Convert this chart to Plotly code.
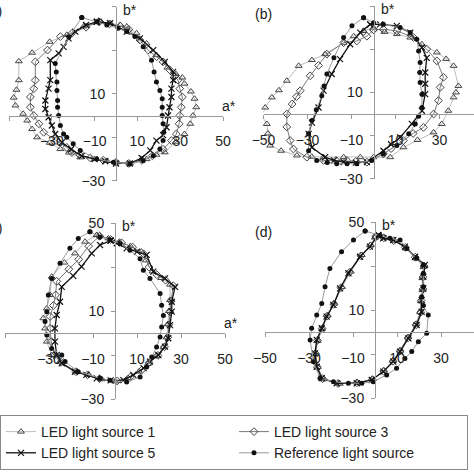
import plotly.graph_objects as go

# a*, b* points, one closed loop per light source and panel
panel_a_led1 = [(-7, 43), (-2.8, 42.3), (2, 41.5), (5, 40.8), (9.6, 37.7), (14.3, 33), (18.9, 27.7), (24, 22),
                (28, 19), (31, 17.4), (32, 14.6), (35, 11), (36.7, 7.7), (37.5, 3.8), (36, 0), (34.7, -3.8),
                (32, -8.5), (28, -12), (22.8, -16.9), (18.9, -18), (14.3, -20), (6.5, -22), (0, -21.5),
                (-4.3, -20.8), (-10, -20), (-16.7, -19.2), (-22, -17), (-26, -15.4), (-31, -12.5), (-36.9, -10),
                (-39.2, -6.2), (-41.5, -2.3), (-43.4, 0.8), (-47, 4.6), (-47.8, 8.2), (-46.5, 11.8),
                (-45.4, 16.2), (-45.4, 24.9), (-39.2, 28.8), (-31, 33.8), (-23, 37), (-15.2, 40.8), (-7, 43)]
panel_a_led3 = [(-8, 43), (-3, 42), (2, 41), (6, 39.5), (11.2, 34.6), (15, 30), (19, 27), (22, 24.6), (25, 21),
                (27.5, 18), (29, 16.2), (29.8, 12.3), (31, 8.5), (30.5, 3.8), (29.8, 0), (29.5, -3.8),
                (28.2, -8.5), (25.9, -11.5), (22, -15.5), (17, -18.5), (12, -20.5), (6, -22), (0, -21.5),
                (-6, -20.5), (-12, -19.5), (-17, -18), (-20.6, -17), (-23, -14.6), (-28, -11.5), (-33.8, -7.7),
                (-36, -3.8), (-38.4, 0), (-40, 3.8), (-40, 8.5), (-38.4, 12.3), (-37.7, 16.2), (-37.7, 24.6),
                (-32, 30), (-26, 36.2), (-20.6, 37.7), (-14, 40.5), (-8, 43)]
panel_a_led5 = [(-9, 43), (-2.8, 42.3), (5, 38.5), (11.2, 35.4), (17.4, 30), (22.8, 24.6), (26.7, 20),
                (26.7, 16.2), (25.9, 12.3), (25.9, 8.5), (25, 3.8), (24.3, 0), (23.6, -5.4), (22, -9),
                (18.9, -11.5), (16, -16), (12, -19.5), (6.5, -22), (0, -22), (-5, -21), (-10, -20), (-16, -18.5),
                (-21, -15.5), (-25.3, -12.3), (-28.4, -8.5), (-30, -4.6), (-31.5, -0.8), (-33, 3), (-33, 6.9),
                (-31.5, 12.3), (-30.7, 16.2), (-30.7, 25.4), (-26.8, 28.5), (-24.5, 31.5), (-22.2, 35.4),
                (-19, 38.5), (-14, 41.5), (-9, 43)]
panel_a_ref = [(-16, 45), (-9, 43), (-4.3, 41.5), (1, 40), (5, 38.5), (8.8, 36.2), (12.7, 31.5), (16.6, 25.4),
               (17.8, 20), (18.9, 15.4), (20.5, 11.5), (21.6, 7.7), (21.6, 3.8), (21.6, 0), (22, -3.8),
               (22.3, -7.7), (22, -11.5), (20.5, -15.4), (17.4, -18.5), (12.7, -20.8), (6.5, -22.3),
               (-1.2, -21.5), (-9, -20), (-16.7, -16), (-20, -13), (-23, -10), (-24.5, -8.5), (-26, -4.6),
               (-26.8, 0), (-27.3, 3.8), (-27.3, 6.9), (-27.6, 11.5), (-27.6, 15.4), (-27.9, 20),
               (-28.4, 23.8), (-22, 36), (-16, 45)]

panel_b_led1 = [(-4.5, 38.5), (0, 40), (5, 38), (10.6, 37), (16.7, 35.4), (22, 32.3), (28.8, 28.5), (33, 25.5),
                (36.4, 22.3), (38.6, 13), (37.5, 10), (36.4, 7.7), (34, 1.5), (31, -4.6), (27.3, -8.5),
                (20, -12), (13.6, -15.4), (7.6, -20), (0, -20), (-6, -20), (-13.6, -20), (-22.7, -20),
                (-28, -19.8), (-34.8, -19.2), (-42, -17), (-47, -14.6), (-48, -9), (-48.5, -4.6), (-50.8, -0.8),
                (-49.2, 3), (-46.2, 7.7), (-43, 11), (-39.4, 15.4), (-34, 22.3), (-28, 25), (-22, 27.7),
                (-13.6, 33), (-9, 36), (-4.5, 38.5)]
panel_b_led3 = [(0, 39), (4.5, 39.2), (10.6, 38.5), (18.2, 35.4), (24.2, 30), (28.8, 24.6), (31.8, 17),
                (30.3, 12.3), (29.5, 6.2), (27.3, 0), (22.7, -6.2), (18, -9), (13.6, -12.3), (8, -16),
                (4.5, -18.5), (-3, -22.3), (-8, -22), (-12.1, -21.5), (-17, -21.5), (-22.7, -21.5), (-30.3, -20),
                (-36.4, -16.2), (-37.9, -12.3), (-39.4, -6), (-39.4, 0), (-37, 4.6), (-35, 8), (-33.3, 10.8),
                (-28.8, 17.7), (-25, 22.5), (-21.2, 27.7), (-13.6, 33), (-7.6, 33.8), (-3, 36), (0, 39)]
panel_b_led5 = [(-1.5, 41.5), (3, 41.5), (10.6, 40.8), (16.7, 37.7), (22, 30.8), (24.2, 26), (23.5, 19.2),
                (23.5, 14), (23.5, 9.2), (22, 1.5), (17.4, -4.6), (12.1, -10.8), (8, -14), (4.5, -17),
                (-3, -22.3), (-8, -22.5), (-13.6, -22.3), (-18, -21.5), (-22, -20), (-28, -15.4), (-29.5, -9.2),
                (-28, -4), (-25, 3), (-22.7, 10.8), (-19, 18.5), (-15.2, 25.4), (-10.6, 32.3), (-6, 37.7),
                (-1.5, 41.5)]
panel_b_ref = [(-4.5, 44.6), (0, 42.3), (4.5, 41.5), (12.1, 40), (16.7, 37.7), (19.7, 34.6), (20.5, 29.2),
               (21.2, 23.8), (21, 19.2), (21.2, 14.6), (22, 9.2), (22, 3), (20.5, -1), (19, -4.6), (16, -9.2),
               (10.6, -14.6), (4.5, -18.5), (-0.8, -21.5), (-7.6, -23), (-12, -23), (-16.7, -23), (-21, -22.5),
               (-25.8, -21.5), (-29.5, -17), (-29.5, -9.2), (-28, -3), (-26, 2), (-23.5, 8.5), (-22.5, 13),
               (-21.2, 18.5), (-18, 26), (-13.6, 35.4), (-9.8, 40.8), (-4.5, 44.6)]

panel_c_led1 = [(-8.3, 44.5), (-3, 43), (2, 41.5), (7, 39.5), (12, 37), (14, 33), (17, 28), (21, 25), (25, 22),
                (25, 15), (24.5, 10), (24, 4), (23.5, -2), (22, -6.5), (19, -10.5), (15, -14), (11, -17.5),
                (6, -20.5), (0, -22), (-6, -21), (-12, -19), (-17.4, -17.6), (-25, -13), (-28.8, -10),
                (-31, -3.9), (-31.8, 2.1), (-32.6, 6.7), (-31, 11.2), (-29.5, 17.3), (-28.8, 25.6), (-23, 32),
                (-18.2, 36.2), (-13.6, 41.5), (-8.3, 44.5)]
panel_c_led3 = [(-7, 44), (-2, 42.5), (3, 41), (8, 39), (13, 36), (15.5, 30), (19, 26.5), (23, 24), (26.5, 21.5),
                (25.5, 14.5), (25, 9.5), (24.5, 3.8), (24, -2), (22.5, -6.3), (19.5, -10.2), (15.5, -13.5),
                (12, -17), (7, -20), (1, -21.8), (-7, -20.8), (-12.5, -19), (-17.8, -17.6), (-24.5, -13.3),
                (-27.5, -10), (-29, -3.9), (-29.5, 2.1), (-29.5, 7.5), (-28, 12.5), (-27, 17.3), (-26.5, 23.5),
                (-21, 29), (-16.5, 33.5), (-12, 39.5), (-7, 44)]
panel_c_led5 = [(-2, 42), (0.8, 40.8), (5.3, 38.5), (10, 37), (14.4, 35.5), (17.4, 27.9), (22.7, 24.8),
                (27.3, 21), (25.8, 14.2), (25.8, 9.7), (25, 3.6), (24.2, -2.4), (22.7, -6.2), (19.7, -10),
                (15.9, -13), (13, -16), (8.3, -19), (3.8, -21.4), (-2, -21.5), (-8.3, -20.6), (-13, -19),
                (-18.2, -17.6), (-24.2, -13.8), (-26.5, -10), (-27.3, -3.9), (-27.3, 2.1), (-26.5, 8.2),
                (-25, 14.2), (-24.2, 21), (-19, 26), (-15.2, 30.2), (-10.6, 36.2), (-6.8, 40), (-2, 42)]
panel_c_ref = [(-11.4, 46), (-16.7, 43), (-20.5, 38.5), (-25, 31.7), (-28.8, 24.8), (-30.3, 17.3), (-31, 9.7),
               (-31.8, 5.2), (-31, -0.9), (-28.8, -7), (-24.2, -10), (-22.7, -13), (-16.7, -17.6),
               (-6.8, -20.6), (-2.3, -21.5), (5.3, -22.3), (11.4, -20), (14.4, -15.5), (16.7, -10.9),
               (18.9, -6.4), (20.5, -1.8), (21.2, 2.7), (22, 8), (21.2, 12.6), (20.5, 18), (15.9, 24.8),
               (12.9, 28.5), (11.4, 33.8), (6.8, 37.6), (2.3, 40.6), (-2.3, 42.4), (-6.8, 43.6), (-11.4, 46)]

panel_d_led1 = [(0, 43), (4, 43), (9, 41.5), (14, 38), (18.5, 33.5), (22, 29.5), (21.5, 24.5), (21.5, 19),
                (20.8, 14), (20.5, 9), (18.5, 3.5), (15, -2.5), (11.5, -8.5), (8, -13), (4, -17.5), (-1, -21.5),
                (-8, -23), (-16, -23.5), (-23.5, -21.5), (-26, -16), (-27, -10), (-26, -4), (-24, 1.5),
                (-21.5, 7.5), (-18.5, 13), (-15, 20.5), (-11, 27.5), (-6, 35), (-2, 39.5), (0, 43)]
panel_d_led3 = [(0.5, 43.5), (4, 42.8), (8.5, 41.5), (13.8, 38.5), (18.3, 34), (22.3, 30), (21.8, 25),
                (21.8, 19.5), (21, 14.3), (20.8, 9), (18.7, 3.3), (15, -2.7), (11.4, -8.7), (8.2, -13.3),
                (3.9, -17.8), (-1.2, -21.6), (-8.2, -23.1), (-16.8, -23.4), (-23.8, -21.2), (-26.2, -15.9),
                (-27.1, -9.8), (-26.2, -3.8), (-24, 1.6), (-21.8, 7.2), (-18.7, 12.6), (-15.5, 20.1),
                (-11.6, 27.1), (-6.4, 34.6), (-2.1, 39.1), (0.5, 43.5)]
panel_d_led5 = [(1.5, 44), (3.8, 42.6), (8.3, 41.8), (13.6, 38.8), (18.2, 34.2), (22.7, 30.5), (22, 25.2),
                (22, 19.8), (21.2, 14.5), (21.2, 9.2), (18.9, 3.2), (15.2, -2.9), (11.4, -8.9), (8.3, -13.5),
                (3.8, -18), (-1.5, -21.8), (-8.3, -23.3), (-17.4, -23.3), (-24.2, -21), (-26.5, -15.8),
                (-27.3, -9.7), (-26.5, -3.6), (-24.2, 1.7), (-22, 7), (-18.9, 12.3), (-15.9, 19.8),
                (-12.1, 26.7), (-6.8, 34.2), (-2.3, 38.8), (1.5, 44)]
panel_d_ref = [(-4.5, 45.9), (2.3, 44), (6.8, 42.6), (11.4, 41.8), (14.4, 38), (18.9, 33.5), (22, 30.5),
               (22, 26.7), (22, 20.6), (21.2, 16), (22, 12), (24.2, 7.7), (23.5, -0.6), (19.7, -4.4),
               (16.7, -8.9), (13.6, -12), (9.8, -16.5), (5.3, -19.5), (-0.8, -22.6), (-6, -23.3),
               (-12.1, -23.3), (-18.9, -22.6), (-25, -21), (-28, -13.5), (-29.5, -3.6), (-28.8, 1.7),
               (-26.5, 7.7), (-24.2, 13), (-22.7, 20.6), (-20.5, 28.9), (-15.2, 36.5), (-9.8, 41.8),
               (-4.5, 45.9)]

series_names = ["LED light source 1", "LED light source 3", "LED light source 5", "Reference light source"]
panel_labels = ["(a)", "(b)", "(c)", "(d)"]
x_tick_vals = [-50, -30, -10, 10, 30, 50]
x_tick_text = ["−50", "−30", "−10", "10", "30", "50"]
y_tick_vals = [-30, -10, 10, 30, 50]
y_tick_text = ["−30", "", "10", "", "50"]

panels = [
    [panel_a_led1, panel_a_led3, panel_a_led5, panel_a_ref],
    [panel_b_led1, panel_b_led3, panel_b_led5, panel_b_ref],
    [panel_c_led1, panel_c_led3, panel_c_led5, panel_c_ref],
    [panel_d_led1, panel_d_led3, panel_d_led5, panel_d_ref],
]

W = H = 474
# pixel origin and pixel-per-unit scale of each panel
geom = [
    dict(ox=116, oy=115.5, sx=2.14, sy=2.18),
    dict(ox=373.5, oy=114, sx=2.2, sy=2.16),
    dict(ox=115, oy=333, sx=2.2, sy=2.2),
    dict(ox=375, oy=332, sx=2.2, sy=2.2),
]

styles = [
    dict(line=dict(color="#bdbdbd", width=1),
         marker=dict(symbol="triangle-up-open", size=6, color="#444", line=dict(width=1, color="#444"))),
    dict(line=dict(color="#7a7a7a", width=1),
         marker=dict(symbol="diamond-open", size=6, color="#444", line=dict(width=1, color="#444"))),
    dict(line=dict(color="#111", width=1.3),
         marker=dict(symbol="x-thin-open", size=6, color="#111", line=dict(width=1.2, color="#111"))),
    dict(line=dict(color="#9a9a9a", width=1),
         marker=dict(symbol="circle", size=5, color="#111", line=dict(width=0))),
]

fig = go.Figure()
font = "Liberation Sans, Arial, sans-serif"
annotations = []

for p, (loops, g) in enumerate(zip(panels, geom)):
    sfx = "" if p == 0 else str(p + 1)
    for s, pts in enumerate(loops):
        fig.add_trace(go.Scatter(
            x=[v[0] for v in pts], y=[v[1] for v in pts],
            mode="lines+markers", name=series_names[s],
            showlegend=(p == 0), cliponaxis=False,
            xaxis="x" + sfx, yaxis="y" + sfx, **styles[s]))

    x_lo = -50
    x_hi = min(50, (W - g["ox"]) / g["sx"])
    px_lo = g["ox"] + x_lo * g["sx"]
    px_hi = g["ox"] + x_hi * g["sx"]
    py_top = g["oy"] - 50 * g["sy"]
    py_bot = g["oy"] + 30 * g["sy"]

    axis_common = dict(showgrid=False, zeroline=False, showline=True, linecolor="#9a9a9a", linewidth=1,
                       ticks="outside", ticklen=4, tickcolor="#9a9a9a", automargin=False,
                       tickfont=dict(size=14, color="#222", family=font), anchor="free")
    fig.update_layout(**{
        "xaxis" + sfx: dict(axis_common, domain=[max(px_lo, 0) / W, min(px_hi, W) / W], range=[x_lo, x_hi],
                            position=1 - g["oy"] / H, tickvals=x_tick_vals, ticktext=x_tick_text,
                            ticklabelstandoff=9),
        "yaxis" + sfx: dict(axis_common, domain=[1 - py_bot / H, 1 - py_top / H], range=[-30, 50],
                            position=g["ox"] / W, tickvals=y_tick_vals, ticktext=y_tick_text,
                            ticklabelstandoff=4),
    })

    xr, yr = "x" + sfx, "y" + sfx
    annotations.append(dict(text="b*", xref=xr, yref=yr, x=0, y=50, xanchor="left", yanchor="middle",
                            xshift=5, yshift=-3, showarrow=False, font=dict(size=14, color="#222", family=font)))
    if p in (0, 2):
        annotations.append(dict(text="a*", xref=xr, yref=yr, x=50, y=0, xanchor="left", yanchor="bottom",
                                xshift=-3, yshift=0, showarrow=False, font=dict(size=14, color="#222", family=font)))
        annotations.append(dict(text=panel_labels[p], xref="paper", yref="paper", x=3.5 / W,
                                y=1 - (g["oy"] - 105) / H, xanchor="right", yanchor="middle", showarrow=False,
                                font=dict(size=14, color="#222", family=font)))
    else:
        annotations.append(dict(text=panel_labels[p], xref="paper", yref="paper", x=253 / W,
                                y=1 - (g["oy"] - 100) / H, xanchor="left", yanchor="middle", showarrow=False,
                                font=dict(size=14, color="#222", family=font)))

fig.update_layout(
    width=W, height=H, margin=dict(l=0, r=0, t=0, b=0, autoexpand=False),
    paper_bgcolor="white", plot_bgcolor="white",
    font=dict(family=font, size=14, color="#222"),
    annotations=annotations,
    legend=dict(orientation="h", traceorder="normal", x=0, xanchor="left", y=4 / H, yanchor="bottom",
                entrywidth=188, entrywidthmode="pixels", bordercolor="#888", borderwidth=1,
                bgcolor="white", font=dict(size=14, color="#222", family=font)),
)

fig.write_html("out.html", config={"displayModeBar": False},
               post_script="document.body.style.margin='0';")
